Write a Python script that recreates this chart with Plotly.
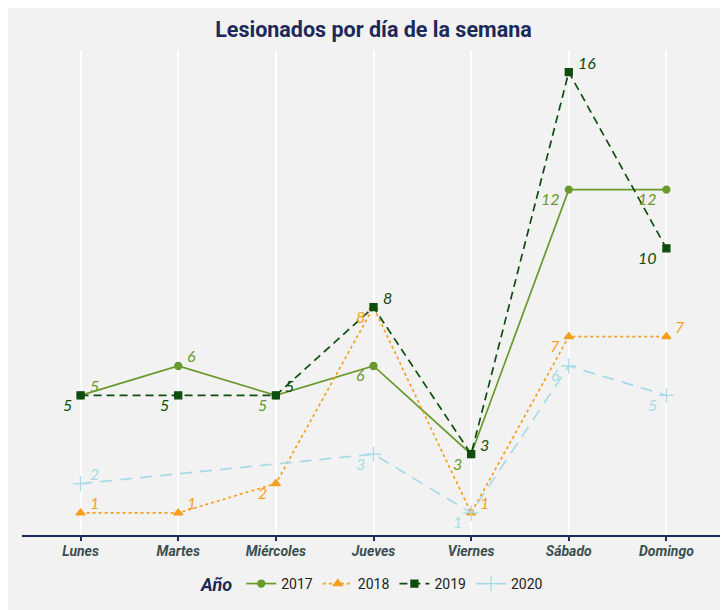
import plotly.graph_objects as go

dias = ["Lunes", "Martes", "Miércoles", "Jueves", "Viernes", "Sábado", "Domingo"]
anios = ["2017", "2018", "2019", "2020"]
v2017 = [5, 6, 5, 6, 3, 12, 12]
v2018 = [1, 1, 2, 8, 1, 7, 7]
v2019 = [5, 5, 5, 8, 3, 16, 10]
v2020 = [2, None, None, 3, 1, 6, 5]

# style: label side per point (1 = upper right, -1 = lower left)
lado2017 = [1, 1, -1, -1, -1, -1, -1]
lado2018 = [1, 1, -1, -1, 1, -1, 1]
lado2019 = [-1, -1, 1, 1, 1, 1, -1]
lado2020 = [1, 1, 1, -1, -1, -1, -1]

estilos = {
    "2017": dict(color="#6a992c", dash="solid", symbol="circle", msize=7, vals=v2017, lado=lado2017),
    "2018": dict(color="#f5a01e", dash="dot", symbol="triangle-up", msize=8, vals=v2018, lado=lado2018),
    "2019": dict(color="#0d4d0d", dash="8px,5px", symbol="square", msize=7, vals=v2019, lado=lado2019),
    "2020": dict(color="#a8dbe6", dash="12px,8px", symbol="cross-thin", msize=11, vals=v2020, lado=lado2020),
}

fig = go.Figure()
annotations = []
for a in anios:
    s = estilos[a]
    fig.add_trace(go.Scatter(
        x=dias, y=s["vals"], name=a, mode="lines+markers", connectgaps=True,
        line=dict(color=s["color"], dash=s["dash"], width=1.7),
        marker=dict(symbol=s["symbol"], size=s["msize"], color=s["color"],
                    line=dict(color=s["color"], width=1.3)),
    ))
    for d, v, l in zip(dias, s["vals"], s["lado"]):
        if v is None:
            continue
        if l == 1:
            xa, xs, ys = "left", 7, 10
        else:
            xa, xs, ys = "right", -7, -9
        annotations.append(dict(
            x=d, y=v, xref="x", yref="y", text=str(v), showarrow=False,
            xanchor=xa, yanchor="middle", xshift=xs, yshift=ys,
            font=dict(family="Lato", size=16, color=s["color"], style="italic"),
        ))

fig.update_layout(
    width=728, height=610,
    paper_bgcolor="#f2f2f2", plot_bgcolor="#f2f2f2",
    margin=dict(l=14, r=11, t=42, b=83),
    title=dict(text="<b>Lesionados por día de la semana</b>", x=0.502, xanchor="center",
               y=0.964, yanchor="middle",
               font=dict(family="Roboto", size=21.5, color="#1b2a58")),
    showlegend=True,
    legend=dict(orientation="h", x=0.5, xanchor="center", y=-0.103, yanchor="middle",
                title=dict(text="<b><i>Año</i></b>", font=dict(family="Roboto", size=18, color="#1b2a58")),
                font=dict(family="Roboto", size=14, color="#222222"),
                bgcolor="rgba(0,0,0,0)", itemwidth=30),
    annotations=annotations,
    xaxis=dict(range=[-0.6, 6.6], showgrid=True, gridcolor="#ffffff", gridwidth=1.5,
               showline=True, linecolor="#1b2a58", linewidth=2,
               ticks="outside", tickcolor="#1b2a58", ticklen=4, tickwidth=1.5,
               ticklabelstandoff=-2,
               tickfont=dict(family="Roboto", size=14, color="#3a5050", weight="bold", style="italic"),
               zeroline=False, fixedrange=True),
    yaxis=dict(range=[0.25, 16.75], showgrid=False, showticklabels=False, zeroline=False,
               showline=False, ticks=""),
)

fig.write_html("out.html")
